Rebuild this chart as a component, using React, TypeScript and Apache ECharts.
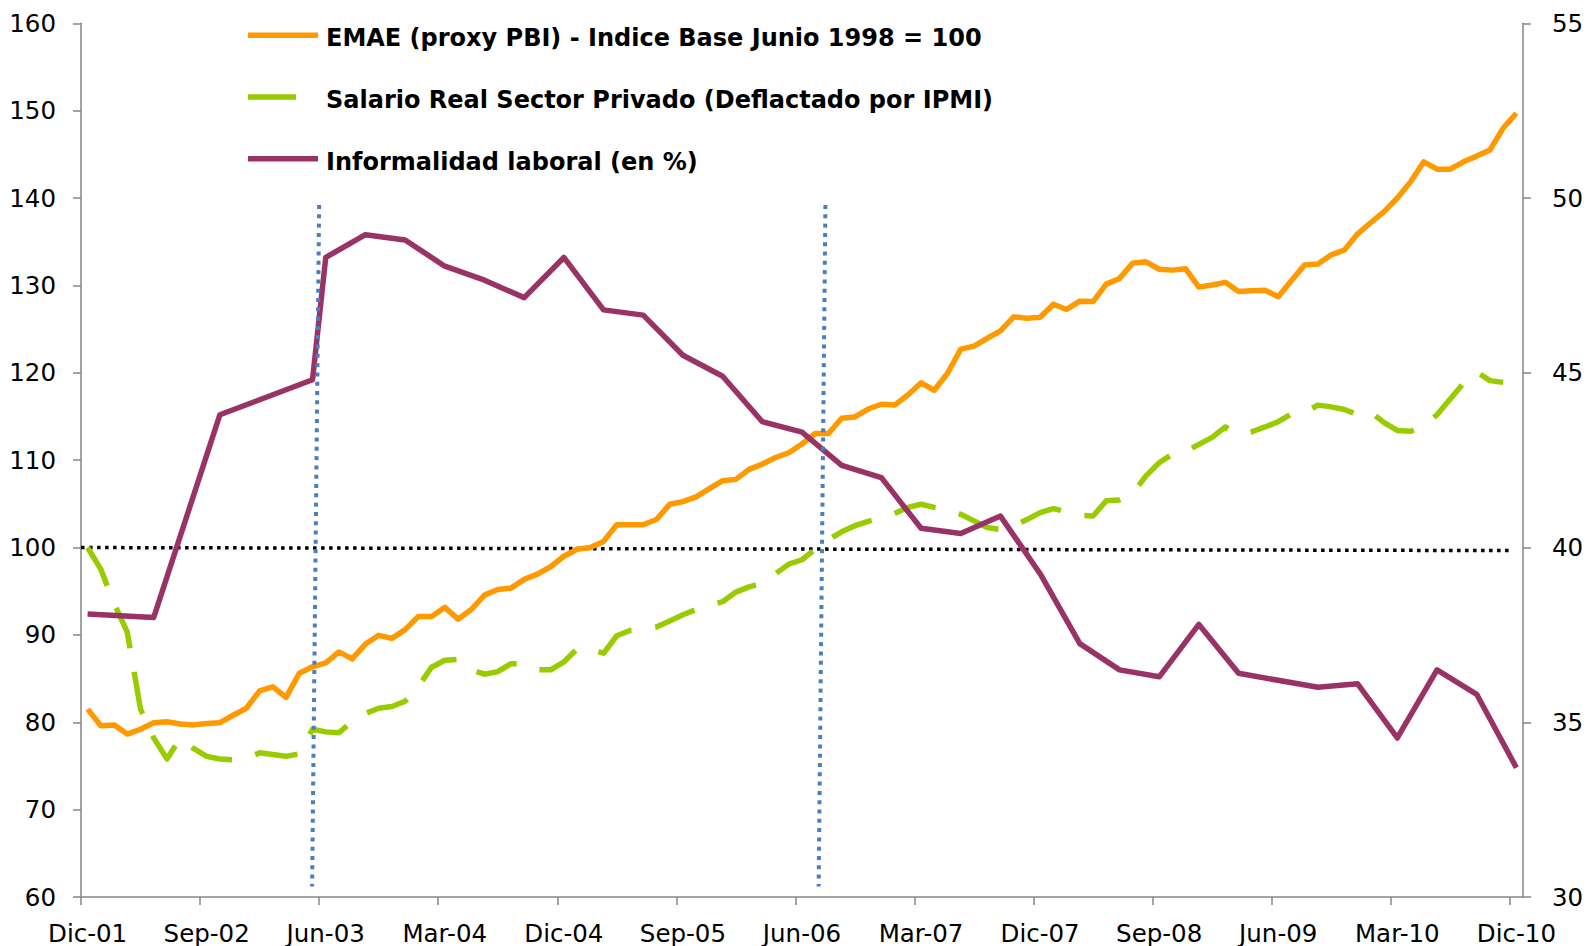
import React, { useEffect, useRef } from "react";
import * as echarts from "echarts";

// ---- Data -------------------------------------------------------------
const xTickLabels = ["Dic-01", "Sep-02", "Jun-03", "Mar-04", "Dic-04", "Sep-05", "Jun-06", "Mar-07", "Dic-07", "Sep-08", "Jun-09", "Mar-10", "Dic-10"];
const monthsPerTick = 9;
const monthCount = 109; // Dic-01 .. Dic-10

const seriesNames = [
  "EMAE (proxy PBI) - Indice Base Junio 1998 = 100",
  "Salario Real Sector Privado (Deflactado por IPMI)",
  "Informalidad laboral (en %)",
];

// EMAE, monthly from Dic-01
const emae = [
  81.5, 79.6, 79.7, 78.65, 79.2, 79.95, 80.05, 79.8, 79.7, 79.85,
  79.95, 80.8, 81.6, 83.6, 84.05, 82.85, 85.6, 86.35, 86.8, 88.05,
  87.25, 88.95, 89.95, 89.6, 90.6, 92.1, 92.1, 93.15, 91.8, 92.9,
  94.55, 95.2, 95.35, 96.35, 96.95, 97.8, 99.0, 99.8, 100.0, 100.7,
  102.6, 102.6, 102.6, 103.2, 104.95, 105.25, 105.8, 106.75, 107.65, 107.8,
  108.95, 109.55, 110.3, 110.85, 111.85, 113.05, 113.05, 114.8, 114.95, 115.85,
  116.4, 116.3, 117.45, 118.85, 118.0, 119.95, 122.7, 123.05, 123.95, 124.8,
  126.4, 126.25, 126.35, 127.85, 127.25, 128.2, 128.15, 130.15, 130.8, 132.55,
  132.7, 131.85, 131.75, 131.9, 129.8, 130.05, 130.35, 129.3, 129.4, 129.45,
  128.7, 130.55, 132.35, 132.45, 133.5, 134.05, 135.9, 137.2, 138.45, 140.0,
  141.85, 144.15, 143.3, 143.3, 144.15, 144.8, 145.5, 148.0, 149.7,
];

// Salario real, monthly from Dic-01
const salario = [
  100.0, 97.5, 93.6, 90.3, 81.5, 78.2, 75.8, 78.2, 77.0, 76.1,
  75.8, 75.7, 75.9, 76.5, 76.3, 76.1, 76.4, 79.2, 78.9, 78.8,
  80.1, 81.0, 81.6, 81.8, 82.4, 84.1, 86.3, 87.1, 87.2, 86.0,
  85.5, 85.8, 86.7, 86.7, 86.0, 86.0, 86.9, 88.4, 88.4, 87.9,
  89.9, 90.5, 90.6, 90.9, 91.6, 92.3, 92.9, 93.4, 93.8, 94.9,
  95.5, 95.9, 97.0, 98.1, 98.6, 99.8, 100.9, 101.8, 102.5, 103.0,
  103.4, 103.9, 104.6, 104.95, 104.6, 104.3, 103.8, 103.05, 102.3, 102.05,
  102.5, 103.2, 104.0, 104.45, 104.1, 103.7, 103.6, 105.35, 105.45, 106.2,
  108.2, 109.7, 110.7, 111.0, 111.8, 112.6, 113.8, 112.95, 113.25, 113.8,
  114.4, 115.3, 115.45, 116.3, 116.1, 115.8, 115.2, 115.5, 114.3, 113.4,
  113.3, 113.9, 115.2, 117.0, 118.8, 120.1, 119.1, 118.9,
];

// Informalidad laboral (right axis), survey months (index from Dic-01)
const informalidadMonths = [0, 5, 10, 17, 18, 21, 24, 27, 30, 33, 36, 39, 42, 45, 48, 51, 54, 57, 60, 63, 66, 69, 72, 75, 78, 81, 84, 87, 93, 96, 99, 102, 105, 108];
const informalidadValues = [38.1, 38.0, 43.8, 44.8, 48.3, 48.95, 48.8, 48.05, 47.65, 47.15, 48.3, 46.8, 46.65, 45.5, 44.9, 43.6, 43.3, 42.35, 42.0, 40.55, 40.4, 40.9, 39.25, 37.25, 36.5, 36.3, 37.8, 36.4, 36.0, 36.1, 34.55, 36.5, 35.8, 33.7];

// Reference lines (data coordinates: month index, left-axis value)
const baseLine100 = [[-0.6, 100.0], [108.1, 99.65]];
const breakLine2003 = [[18.0, 139.2], [17.47, 61.2]];
const breakLine2006 = [[56.27, 139.2], [55.76, 61.2]];

// ---- Chart ------------------------------------------------------------
const FONT = "'DejaVu Sans', 'Liberation Sans', sans-serif";
const AXIS_GRAY = "#868686";
const COLORS = ["#FF9900", "#99CC00", "#993366"];

// legend swatches: 70x24 box, bar across the box (solid) or a single dash (dashed)
const SOLID_ICON = "path://M0 6.5H70V12H0Z M0 0H0.01V0.01H0Z M69.99 23.99H70V24H69.99Z";
const DASH_ICON = "path://M0 6.5H48V12H0Z M0 0H0.01V0.01H0Z M69.99 23.99H70V24H69.99Z";

export default function App() {
  const ref = useRef<HTMLDivElement>(null);

  useEffect(() => {
    if (!ref.current) return;
    const chart = echarts.init(ref.current, null, { renderer: "svg" });

    const tickValues = xTickLabels.map((_, k) => k * monthsPerTick);
    const labelValues = xTickLabels.map((_, k) => k * monthsPerTick + 0.5);

    const axisLineStyle = { color: AXIS_GRAY, width: 1.5 };
    const tickLabelStyle = { fontFamily: FONT, fontSize: 24.5, color: "#000" };

    const option: any = {
      animation: false,
      backgroundColor: "#ffffff",
      grid: { left: 81, right: 66, top: 23.3, bottom: 49, containLabel: false },
      legend: {
        orient: "vertical",
        left: 248,
        top: 26,
        padding: 0,
        itemGap: 37.8,
        itemWidth: 70,
        itemHeight: 24,
        selectedMode: false,
        itemStyle: { borderWidth: 0 },
        data: [
          { name: seriesNames[0], icon: SOLID_ICON, itemStyle: { color: COLORS[0], borderWidth: 0 } },
          { name: seriesNames[1], icon: DASH_ICON, itemStyle: { color: COLORS[1], borderWidth: 0 } },
          { name: seriesNames[2], icon: SOLID_ICON, itemStyle: { color: COLORS[2], borderWidth: 0 } },
        ],
        textStyle: { fontFamily: FONT, fontSize: 24, fontWeight: "bold", color: "#000", padding: [0, 0, 0, 3] },
      },
      xAxis: {
        type: "value",
        min: 0,
        max: monthCount,
        axisLine: { show: true, onZero: false, lineStyle: axisLineStyle },
        axisTick: { show: true, length: 8, lineStyle: axisLineStyle, customValues: tickValues },
        axisLabel: {
          ...tickLabelStyle,
          lineHeight: 20,
          margin: 26,
          customValues: labelValues,
          formatter: (v: number) => xTickLabels[Math.round((v - 0.5) / monthsPerTick)] ?? "",
        },
        splitLine: { show: false },
      },
      yAxis: [
        {
          type: "value",
          position: "left",
          min: 60,
          max: 160,
          interval: 10,
          axisLine: { show: true, lineStyle: axisLineStyle },
          axisTick: { show: true, length: 8, lineStyle: axisLineStyle },
          axisLabel: { ...tickLabelStyle, margin: 25 },
          splitLine: { show: false },
        },
        {
          type: "value",
          position: "right",
          min: 30,
          max: 55,
          interval: 5,
          axisLine: { show: true, lineStyle: axisLineStyle },
          axisTick: { show: true, length: 8, lineStyle: axisLineStyle },
          axisLabel: { ...tickLabelStyle, margin: 29 },
          splitLine: { show: false },
        },
      ],
      series: [
        {
          type: "line",
          silent: true,
          clip: false,
          z: 1,
          symbol: "none",
          data: baseLine100,
          lineStyle: { color: "#000", width: 3.5, type: [3.5, 4.5] },
        },
        {
          name: seriesNames[1],
          type: "line",
          yAxisIndex: 0,
          symbol: "none",
          data: salario.map((v, i) => [i + 0.5, v]),
          itemStyle: { color: COLORS[1] },
          lineStyle: { color: COLORS[1], width: 5.5, type: [43, 24], join: "round" },
        },
        {
          name: seriesNames[0],
          type: "line",
          yAxisIndex: 0,
          symbol: "none",
          data: emae.map((v, i) => [i + 0.5, v]),
          itemStyle: { color: COLORS[0] },
          lineStyle: { color: COLORS[0], width: 5.5, join: "round" },
        },
        {
          name: seriesNames[2],
          type: "line",
          yAxisIndex: 1,
          symbol: "none",
          data: informalidadMonths.map((m, k) => [m + 0.5, informalidadValues[k]]),
          itemStyle: { color: COLORS[2] },
          lineStyle: { color: COLORS[2], width: 5.5, join: "round" },
        },
        {
          type: "line",
          silent: true,
          z: 4,
          symbol: "none",
          data: breakLine2003,
          lineStyle: { color: "#4A7EBF", width: 4, type: [4, 5.3] },
        },
        {
          type: "line",
          silent: true,
          z: 4,
          symbol: "none",
          data: breakLine2006,
          lineStyle: { color: "#4A7EBF", width: 4, type: [4, 5.3] },
        },
      ],
    };

    chart.setOption(option);
    return () => chart.dispose();
  }, []);

  return <div ref={ref} style={{ position: "fixed", left: 0, top: 0, width: 1589, height: 946, background: "#fff" }} />;
}
